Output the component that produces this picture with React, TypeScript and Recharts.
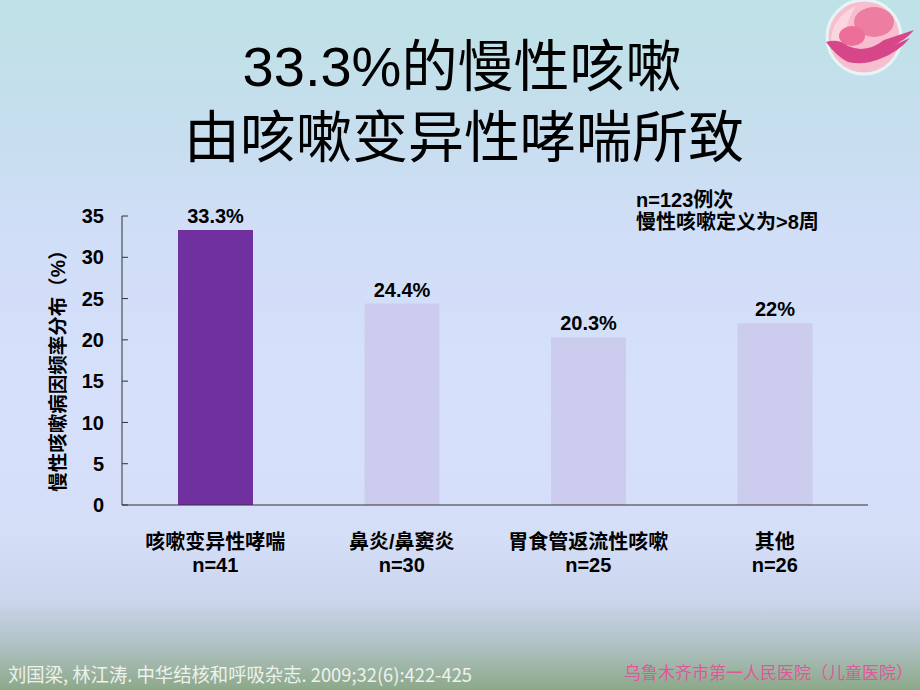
import React from "react";
import { BarChart, Bar, XAxis, YAxis, Cell, LabelList } from "recharts";

// chart values
const categories = ["咳嗽变异性哮喘", "鼻炎/鼻窦炎", "胃食管返流性咳嗽", "其他"];
const sampleSizes = ["n=41", "n=30", "n=25", "n=26"];
const percents = [33.3, 24.4, 20.3, 22];
const percentLabels = ["33.3%", "24.4%", "20.3%", "22%"];
const yTicks = [0, 5, 10, 15, 20, 25, 30, 35];
const boundaryTicks = [1, 2, 3, 4];
const barColors = ["#7030A0", "#CCCCEE", "#CCCCEE", "#CCCCEE"];

const data = categories.map((name, i) => ({
  name,
  n: sampleSizes[i],
  value: percents[i],
  label: percentLabels[i],
}));

const FONT = "'Liberation Sans', 'Noto Sans CJK SC', sans-serif";

function CategoryTick({ x, y, payload }: any) {
  const row = data.find((d) => d.name === payload.value);
  return (
    <g fontFamily={FONT} fontWeight="bold" fontSize={20} fill="#000">
      <text x={x} y={y + 44} textAnchor="middle">{payload.value}</text>
      <text x={x} y={y + 67} textAnchor="middle">{row ? row.n : ""}</text>
    </g>
  );
}

function Logo() {
  return (
    <g>
      <circle cx={864} cy={37} r={37} fill="#F7BED0" stroke="#E6F4F6" strokeWidth={3} />
      <path d="M832 52 Q826 20 856 6 Q842 26 848 50 Z" fill="#FBD6E1" />
      <ellipse cx={874} cy={22} rx={20} ry={15} fill="#EE7DA2" />
      <ellipse cx={852} cy={36} rx={13} ry={10} fill="#EC6E99" />
      <path
        d="M826 42 Q838 38 848 46 Q866 54 884 40 L914 30 Q906 40 892 46 L910 38 Q898 52 882 58 Q864 66 848 62 Q836 56 826 42 Z"
        fill="#D8468A"
      />
    </g>
  );
}

export default function App() {
  return (
    <div
      style={{
        position: "fixed",
        left: 0,
        top: 0,
        width: 920,
        height: 690,
        overflow: "hidden",
        background:
          "linear-gradient(to bottom, #BEE2E6 0%, #C6DEEE 18%, #D1DEF8 35%, #D6E0FB 60%, #D4DEF7 78%, #CBD5EC 87%, #B2C3C8 93%, #8CA888 100%)",
      }}
    >
      <div style={{ position: "absolute", left: 0, top: 0 }}>
        <BarChart
          width={920}
          height={690}
          data={data}
          margin={{ top: 216, right: 52, bottom: 184, left: 62 }}
        >
          <XAxis
            xAxisId="edge"
            type="number"
            domain={[0, 4]}
            ticks={boundaryTicks}
            tick={false}
            axisLine={false}
            tickSize={-6}
            height={0}
            tickLine={{ stroke: "#333" }}
          />
          <XAxis
            dataKey="name"
            height={1}
            tickLine={false}
            tickSize={0}
            tickMargin={0}
            interval={0}
            axisLine={{ stroke: "#333" }}
            tick={<CategoryTick />}
          />
          <YAxis
            width={60}
            domain={[0, 35]}
            ticks={yTicks}
            interval={0}
            tickSize={-6}
            tickMargin={24}
            axisLine={{ stroke: "#333" }}
            tickLine={{ stroke: "#333" }}
            tick={{ fill: "#000", fontSize: 20, fontWeight: "bold", fontFamily: FONT }}
          />
          <Bar dataKey="value" barSize={75} isAnimationActive={false}>
            {data.map((d, i) => (
              <Cell key={d.name} fill={barColors[i]} />
            ))}
            <LabelList
              dataKey="label"
              position="top"
              offset={7}
              fill="#000"
              fontSize={20}
              fontWeight="bold"
              fontFamily={FONT}
            />
          </Bar>
        </BarChart>
      </div>

      <svg
        width={920}
        height={690}
        style={{ position: "absolute", left: 0, top: 0, pointerEvents: "none" }}
      >
        <Logo />
        <g fontFamily={FONT} fill="#000" fontSize={56} textAnchor="middle">
          <text x={462} y={86}>33.3%的慢性咳嗽</text>
          <text x={464} y={157}>由咳嗽变异性哮喘所致</text>
        </g>
        <g fontFamily={FONT} fontWeight="bold" fontSize={20} fill="#000">
          <text x={636} y={207}>n=123例次</text>
          <text x={636} y={229}>慢性咳嗽定义为&gt;8周</text>
          <text transform="translate(65,366) rotate(-90)" textAnchor="middle" fontSize={19.5}>
            慢性咳嗽病因频率分布（%）
          </text>
        </g>
        <text
          x={8}
          y={682}
          fontFamily="'Noto Sans CJK SC', sans-serif"
          fontSize={19}
          fill="#EEF2EC"
          textLength={464}
          lengthAdjust="spacingAndGlyphs"
        >
          刘国梁, 林江涛. 中华结核和呼吸杂志.  2009;32(6):422-425
        </text>
        <text
          x={624}
          y={679}
          fontFamily="'Noto Sans CJK SC', serif"
          fontSize={17}
          fill="#E0569A"
        >
          乌鲁木齐市第一人民医院（儿童医院）
        </text>
      </svg>
    </div>
  );
}
